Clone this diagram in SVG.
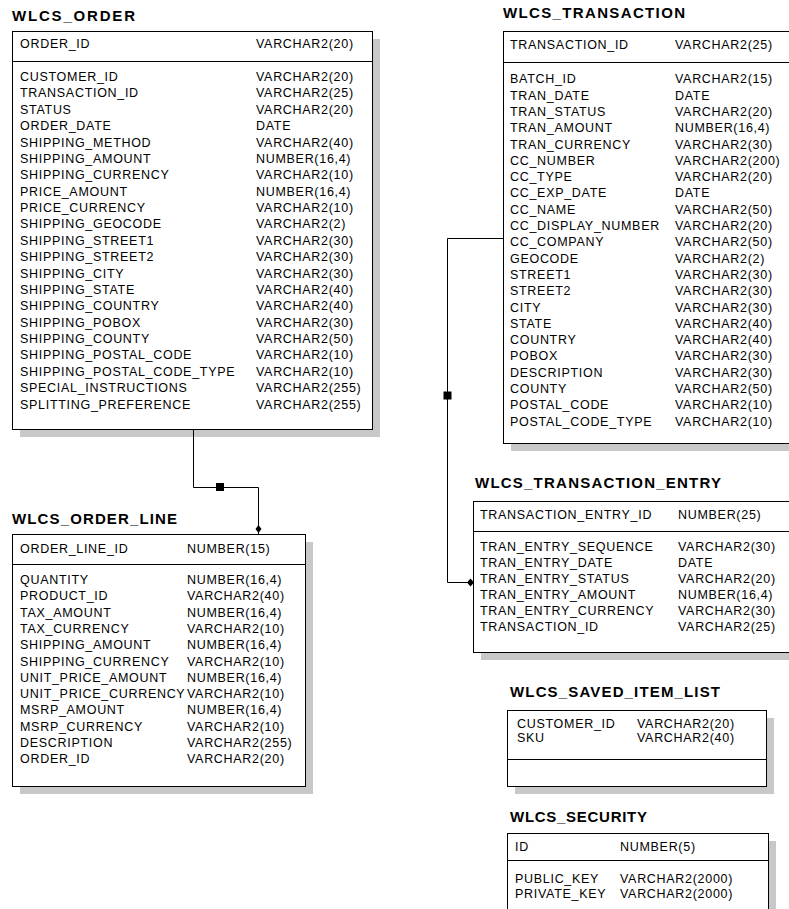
<svg xmlns="http://www.w3.org/2000/svg" width="789" height="909" viewBox="0 0 789 909">
<style>
.bg{fill:#ffffff}
.sh{fill:#c8c8c8}
.box{fill:#ffffff;stroke:#000000;stroke-width:1}
.sep{stroke:#000000;stroke-width:1}
.t{font-family:"Liberation Sans",Arial,sans-serif;font-size:15px;font-weight:bold;fill:#000000}
.c{font-family:"Liberation Sans",Arial,sans-serif;font-size:12.5px;letter-spacing:0.7px;fill:#000000}
.ln{fill:none;stroke:#000000;stroke-width:1}
.mk{fill:#000000}
</style>
<rect class="bg" x="0" y="0" width="789" height="909"/>

<g id="wlcs_order">
<rect class="sh" x="20" y="39" width="360" height="398"/>
<rect class="box" x="12.5" y="31.5" width="360" height="398"/>
<line class="sep" x1="12" y1="61.5" x2="373" y2="61.5"/>
<text class="t" x="12" y="20.5" textLength="123" lengthAdjust="spacing">WLCS_ORDER</text>
<text class="c" x="20" y="48">ORDER_ID</text>
<text class="c" x="256" y="48">VARCHAR2(20)</text>
<text class="c"><tspan x="20" y="81">CUSTOMER_ID</tspan><tspan x="20" dy="16.38">TRANSACTION_ID</tspan><tspan x="20" dy="16.38">STATUS</tspan><tspan x="20" dy="16.38">ORDER_DATE</tspan><tspan x="20" dy="16.38">SHIPPING_METHOD</tspan><tspan x="20" dy="16.38">SHIPPING_AMOUNT</tspan><tspan x="20" dy="16.38">SHIPPING_CURRENCY</tspan><tspan x="20" dy="16.38">PRICE_AMOUNT</tspan><tspan x="20" dy="16.38">PRICE_CURRENCY</tspan><tspan x="20" dy="16.38">SHIPPING_GEOCODE</tspan><tspan x="20" dy="16.38">SHIPPING_STREET1</tspan><tspan x="20" dy="16.38">SHIPPING_STREET2</tspan><tspan x="20" dy="16.38">SHIPPING_CITY</tspan><tspan x="20" dy="16.38">SHIPPING_STATE</tspan><tspan x="20" dy="16.38">SHIPPING_COUNTRY</tspan><tspan x="20" dy="16.38">SHIPPING_POBOX</tspan><tspan x="20" dy="16.38">SHIPPING_COUNTY</tspan><tspan x="20" dy="16.38">SHIPPING_POSTAL_CODE</tspan><tspan x="20" dy="16.38">SHIPPING_POSTAL_CODE_TYPE</tspan><tspan x="20" dy="16.38">SPECIAL_INSTRUCTIONS</tspan><tspan x="20" dy="16.38">SPLITTING_PREFERENCE</tspan></text>
<text class="c"><tspan x="256" y="81">VARCHAR2(20)</tspan><tspan x="256" dy="16.38">VARCHAR2(25)</tspan><tspan x="256" dy="16.38">VARCHAR2(20)</tspan><tspan x="256" dy="16.38">DATE</tspan><tspan x="256" dy="16.38">VARCHAR2(40)</tspan><tspan x="256" dy="16.38">NUMBER(16,4)</tspan><tspan x="256" dy="16.38">VARCHAR2(10)</tspan><tspan x="256" dy="16.38">NUMBER(16,4)</tspan><tspan x="256" dy="16.38">VARCHAR2(10)</tspan><tspan x="256" dy="16.38">VARCHAR2(2)</tspan><tspan x="256" dy="16.38">VARCHAR2(30)</tspan><tspan x="256" dy="16.38">VARCHAR2(30)</tspan><tspan x="256" dy="16.38">VARCHAR2(30)</tspan><tspan x="256" dy="16.38">VARCHAR2(40)</tspan><tspan x="256" dy="16.38">VARCHAR2(40)</tspan><tspan x="256" dy="16.38">VARCHAR2(30)</tspan><tspan x="256" dy="16.38">VARCHAR2(50)</tspan><tspan x="256" dy="16.38">VARCHAR2(10)</tspan><tspan x="256" dy="16.38">VARCHAR2(10)</tspan><tspan x="256" dy="16.38">VARCHAR2(255)</tspan><tspan x="256" dy="16.38">VARCHAR2(255)</tspan></text>
</g>

<g id="wlcs_order_line">
<rect class="sh" x="20" y="542" width="293" height="252"/>
<rect class="box" x="12.5" y="534.5" width="293" height="252"/>
<line class="sep" x1="12" y1="564.5" x2="306" y2="564.5"/>
<text class="t" x="12" y="524" textLength="165" lengthAdjust="spacing">WLCS_ORDER_LINE</text>
<text class="c" x="20" y="552.5">ORDER_LINE_ID</text>
<text class="c" x="187" y="552.5">NUMBER(15)</text>
<text class="c"><tspan x="20" y="584">QUANTITY</tspan><tspan x="20" dy="16.3">PRODUCT_ID</tspan><tspan x="20" dy="16.3">TAX_AMOUNT</tspan><tspan x="20" dy="16.3">TAX_CURRENCY</tspan><tspan x="20" dy="16.3">SHIPPING_AMOUNT</tspan><tspan x="20" dy="16.3">SHIPPING_CURRENCY</tspan><tspan x="20" dy="16.3">UNIT_PRICE_AMOUNT</tspan><tspan x="20" dy="16.3">UNIT_PRICE_CURRENCY</tspan><tspan x="20" dy="16.3">MSRP_AMOUNT</tspan><tspan x="20" dy="16.3">MSRP_CURRENCY</tspan><tspan x="20" dy="16.3">DESCRIPTION</tspan><tspan x="20" dy="16.3">ORDER_ID</tspan></text>
<text class="c"><tspan x="187" y="584">NUMBER(16,4)</tspan><tspan x="187" dy="16.3">VARCHAR2(40)</tspan><tspan x="187" dy="16.3">NUMBER(16,4)</tspan><tspan x="187" dy="16.3">VARCHAR2(10)</tspan><tspan x="187" dy="16.3">NUMBER(16,4)</tspan><tspan x="187" dy="16.3">VARCHAR2(10)</tspan><tspan x="187" dy="16.3">NUMBER(16,4)</tspan><tspan x="187" dy="16.3">VARCHAR2(10)</tspan><tspan x="187" dy="16.3">NUMBER(16,4)</tspan><tspan x="187" dy="16.3">VARCHAR2(10)</tspan><tspan x="187" dy="16.3">VARCHAR2(255)</tspan><tspan x="187" dy="16.3">VARCHAR2(20)</tspan></text>
</g>

<g id="wlcs_transaction">
<rect class="sh" x="511" y="39" width="300" height="412"/>
<rect class="box" x="503.5" y="31.5" width="300" height="412"/>
<line class="sep" x1="503" y1="62.5" x2="804" y2="62.5"/>
<text class="t" x="503" y="18" textLength="182" lengthAdjust="spacing">WLCS_TRANSACTION</text>
<text class="c" x="510" y="49.3">TRANSACTION_ID</text>
<text class="c" x="675" y="49.3">VARCHAR2(25)</text>
<text class="c"><tspan x="510" y="83.3">BATCH_ID</tspan><tspan x="510" dy="16.3">TRAN_DATE</tspan><tspan x="510" dy="16.3">TRAN_STATUS</tspan><tspan x="510" dy="16.3">TRAN_AMOUNT</tspan><tspan x="510" dy="16.3">TRAN_CURRENCY</tspan><tspan x="510" dy="16.3">CC_NUMBER</tspan><tspan x="510" dy="16.3">CC_TYPE</tspan><tspan x="510" dy="16.3">CC_EXP_DATE</tspan><tspan x="510" dy="16.3">CC_NAME</tspan><tspan x="510" dy="16.3">CC_DISPLAY_NUMBER</tspan><tspan x="510" dy="16.3">CC_COMPANY</tspan><tspan x="510" dy="16.3">GEOCODE</tspan><tspan x="510" dy="16.3">STREET1</tspan><tspan x="510" dy="16.3">STREET2</tspan><tspan x="510" dy="16.3">CITY</tspan><tspan x="510" dy="16.3">STATE</tspan><tspan x="510" dy="16.3">COUNTRY</tspan><tspan x="510" dy="16.3">POBOX</tspan><tspan x="510" dy="16.3">DESCRIPTION</tspan><tspan x="510" dy="16.3">COUNTY</tspan><tspan x="510" dy="16.3">POSTAL_CODE</tspan><tspan x="510" dy="16.3">POSTAL_CODE_TYPE</tspan></text>
<text class="c"><tspan x="675" y="83.3">VARCHAR2(15)</tspan><tspan x="675" dy="16.3">DATE</tspan><tspan x="675" dy="16.3">VARCHAR2(20)</tspan><tspan x="675" dy="16.3">NUMBER(16,4)</tspan><tspan x="675" dy="16.3">VARCHAR2(30)</tspan><tspan x="675" dy="16.3">VARCHAR2(200)</tspan><tspan x="675" dy="16.3">VARCHAR2(20)</tspan><tspan x="675" dy="16.3">DATE</tspan><tspan x="675" dy="16.3">VARCHAR2(50)</tspan><tspan x="675" dy="16.3">VARCHAR2(20)</tspan><tspan x="675" dy="16.3">VARCHAR2(50)</tspan><tspan x="675" dy="16.3">VARCHAR2(2)</tspan><tspan x="675" dy="16.3">VARCHAR2(30)</tspan><tspan x="675" dy="16.3">VARCHAR2(30)</tspan><tspan x="675" dy="16.3">VARCHAR2(30)</tspan><tspan x="675" dy="16.3">VARCHAR2(40)</tspan><tspan x="675" dy="16.3">VARCHAR2(40)</tspan><tspan x="675" dy="16.3">VARCHAR2(30)</tspan><tspan x="675" dy="16.3">VARCHAR2(30)</tspan><tspan x="675" dy="16.3">VARCHAR2(50)</tspan><tspan x="675" dy="16.3">VARCHAR2(10)</tspan><tspan x="675" dy="16.3">VARCHAR2(10)</tspan></text>
</g>

<g id="wlcs_transaction_entry">
<rect class="sh" x="481" y="509" width="330" height="151"/>
<rect class="box" x="473.5" y="501.5" width="330" height="151"/>
<line class="sep" x1="473" y1="531.5" x2="804" y2="531.5"/>
<text class="t" x="475" y="487.5" textLength="246" lengthAdjust="spacing">WLCS_TRANSACTION_ENTRY</text>
<text class="c" x="480" y="519.3">TRANSACTION_ENTRY_ID</text>
<text class="c" x="678" y="519.3">NUMBER(25)</text>
<text class="c"><tspan x="480" y="550.7">TRAN_ENTRY_SEQUENCE</tspan><tspan x="480" dy="16.1">TRAN_ENTRY_DATE</tspan><tspan x="480" dy="16.1">TRAN_ENTRY_STATUS</tspan><tspan x="480" dy="16.1">TRAN_ENTRY_AMOUNT</tspan><tspan x="480" dy="16.1">TRAN_ENTRY_CURRENCY</tspan><tspan x="480" dy="16.1">TRANSACTION_ID</tspan></text>
<text class="c"><tspan x="678" y="550.7">VARCHAR2(30)</tspan><tspan x="678" dy="16.1">DATE</tspan><tspan x="678" dy="16.1">VARCHAR2(20)</tspan><tspan x="678" dy="16.1">NUMBER(16,4)</tspan><tspan x="678" dy="16.1">VARCHAR2(30)</tspan><tspan x="678" dy="16.1">VARCHAR2(25)</tspan></text>
</g>

<g id="wlcs_saved_item_list">
<rect class="sh" x="515" y="718" width="259" height="76"/>
<rect class="box" x="507.5" y="710.5" width="259" height="76"/>
<line class="sep" x1="507" y1="759.5" x2="767" y2="759.5"/>
<text class="t" x="510" y="697" textLength="210" lengthAdjust="spacing">WLCS_SAVED_ITEM_LIST</text>
<text class="c" x="517" y="728.3">CUSTOMER_ID</text>
<text class="c" x="637" y="728.3">VARCHAR2(20)</text>
<text class="c" x="517" y="741.7">SKU</text>
<text class="c" x="637" y="741.7">VARCHAR2(40)</text>
</g>

<g id="wlcs_security">
<rect class="sh" x="515" y="841" width="261" height="90"/>
<rect class="box" x="507.5" y="833.5" width="261" height="90"/>
<line class="sep" x1="507" y1="860.5" x2="769" y2="860.5"/>
<text class="t" x="510" y="821.7" textLength="137" lengthAdjust="spacing">WLCS_SECURITY</text>
<text class="c" x="515" y="851">ID</text>
<text class="c" x="620" y="851">NUMBER(5)</text>
<text class="c" x="515" y="883.3">PUBLIC_KEY</text>
<text class="c" x="620" y="883.3">VARCHAR2(2000)</text>
<text class="c" x="515" y="898">PRIVATE_KEY</text>
<text class="c" x="620" y="898">VARCHAR2(2000)</text>
</g>

<g id="connectors">
<polyline class="ln" points="193.5,430 193.5,487.5 258.5,487.5 258.5,534"/>
<rect class="mk" x="216" y="483" width="8" height="8"/>
<polygon class="mk" points="258.5,525 261.5,529 258.5,533 255.5,529"/>
<polyline class="ln" points="503,238.5 447.5,238.5 447.5,582.5 473,582.5"/>
<rect class="mk" x="443.5" y="391.5" width="8" height="8"/>
<polygon class="mk" points="467,582.5 470.5,578.5 474,582.5 470.5,586.5"/>
</g>
</svg>
